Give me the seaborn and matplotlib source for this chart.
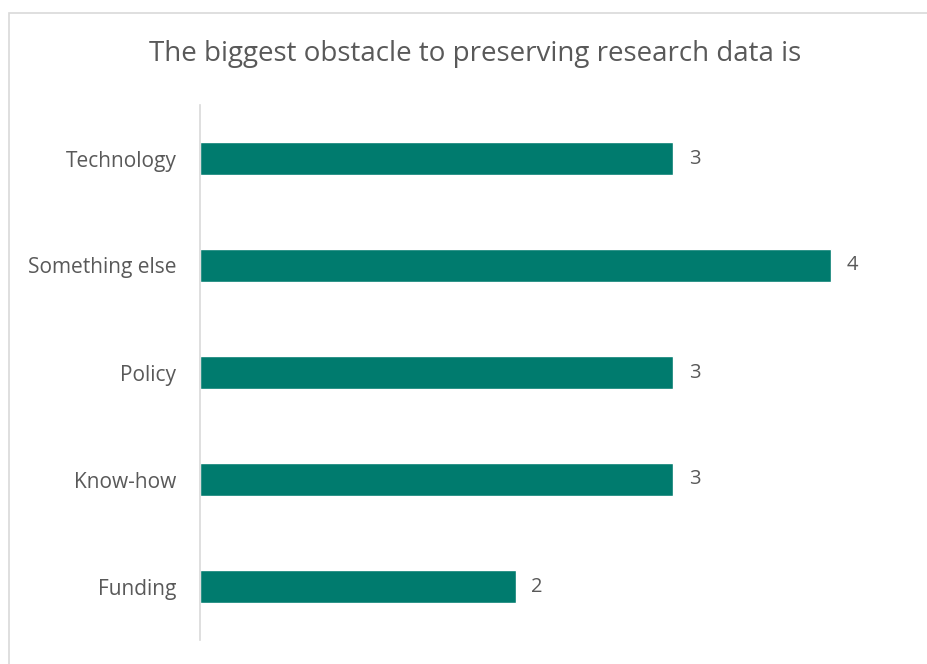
import matplotlib.pyplot as plt
import matplotlib.patches as mpatches
import pandas as pd
import seaborn as sns

# Chart data
categories = ["Technology", "Something else", "Policy", "Know-how", "Funding"]
counts = [3, 4, 3, 3, 2]

df = pd.DataFrame({"obstacle": categories, "count": counts})

sns.set_style("white")
plt.rcParams["font.family"] = ["Open Sans", "DejaVu Sans"]

fig = plt.figure(figsize=(9.28, 6.64), dpi=100)
ax = fig.add_axes([200 / 928, 1 - 640 / 664, 710 / 928, 535 / 664])

sns.barplot(data=df, x="count", y="obstacle", order=categories,
            color="#007B6E", width=0.315, saturation=1, ax=ax)

ax.set_xlim(0, 4.5)
ax.set_ylim(4.5, -0.5)
ax.set_xlabel("")
ax.set_ylabel("")
ax.set_xticks([])

for s in ["top", "right", "bottom"]:
    ax.spines[s].set_visible(False)
ax.spines["left"].set_color("#D9D9D9")
ax.spines["left"].set_linewidth(1.2)
ax.tick_params(axis="y", length=0, pad=17, labelsize=15, labelcolor="#595959")

for i, v in enumerate(counts):
    ax.text(v + 0.1, i, str(v), va="center", ha="left", fontsize=14.5, color="#595959")

fig.text(475 / 928, 1 - 54 / 664, "The biggest obstacle to preserving research data is",
         ha="center", va="center", fontsize=20, color="#595959")

# light frame around the chart area
fig.patches.append(mpatches.Rectangle((9.5 / 928, -0.1), 1.2, 1.1 - 13.5 / 664,
                                      transform=fig.transFigure, fill=False,
                                      edgecolor="#D9D9D9", linewidth=1.2))

fig.savefig("out.png", dpi=100)
